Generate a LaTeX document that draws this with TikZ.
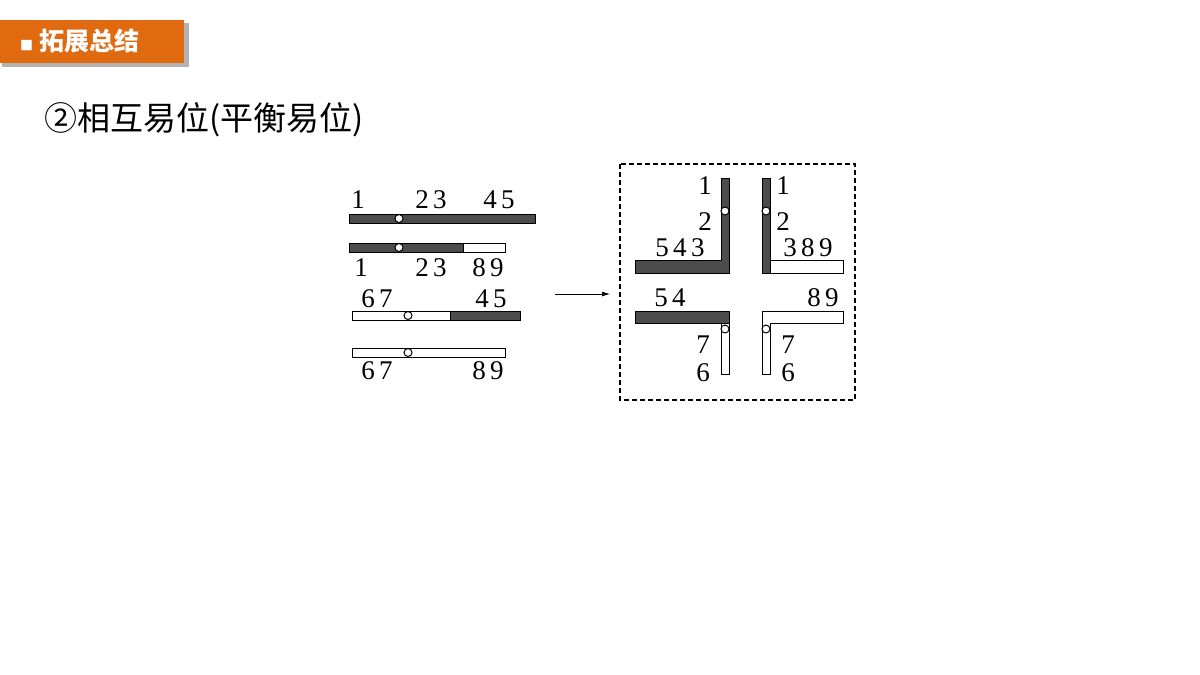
\documentclass[tikz,border=0pt]{standalone}
\usepackage{fontspec}
\usetikzlibrary{arrows.meta}
\newfontfamily\cjk{Noto Sans CJK SC}
\newfontfamily\numf{Liberation Serif}
\definecolor{hdor}{HTML}{E06A10}
\begin{document}
\begin{tikzpicture}[x=1pt,y=-1pt,
  dk/.style={fill=black!70,draw=black,line width=1pt},
  wt/.style={fill=white,draw=black,line width=1pt},
  cen/.style={circle,fill=white,draw=black,line width=1pt,inner sep=0pt,minimum size=8pt},
  num/.style={inner sep=0pt,font=\numf\fontsize{27}{27}\selectfont}]
\useasboundingbox (0,0) rectangle (1200,675);
\fill[white] (0,0) rectangle (1200,675);
% header
\fill[black!30] (2,23) rectangle (189,67);
\fill[hdor] (0,20) rectangle (184,63);
\node[text=white,anchor=west,font=\cjk\bfseries,inner sep=0pt] (hd) at (20,41) {\fontsize{13}{13}\selectfont■\hspace{6pt}\fontsize{25}{25}\selectfont 拓展总结};
\node[anchor=west,font=\cjk\fontsize{33}{33}\selectfont,inner sep=0pt] (title) at (44,120) {②相互易位(平衡易位)};
% left chromosomes
\draw[dk] (349,214) rectangle (535,223);
\node[cen] (c1) at (399,218.5) {};
\draw[dk] (349,243) rectangle (463,252); \draw[wt] (463,243) rectangle (505,252);
\node[cen] (c2) at (399,247.5) {};
\draw[wt] (352,311) rectangle (450,320); \draw[dk] (450,311) rectangle (520,320);
\node[cen] (c3) at (408,315.5) {};
\draw[wt] (352,348) rectangle (505,357);
\node[cen] (c4) at (408,352.5) {};
\node[num] (a1) at (358,200) {1};
\node[num] (a2) at (431,200) {2\,3};
\node[num] (a3) at (499,200) {4\,5};
\node[num] (b1) at (361,268) {1};
\node[num] (b2) at (431,268) {2\,3};
\node[num] (b3) at (488,268) {8\,9};
\node[num] (d1) at (377,299) {6\,7};
\node[num] (d2) at (491,299) {4\,5};
\node[num] (e1) at (377,371) {6\,7};
\node[num] (e2) at (488,371) {8\,9};
% arrow
\coordinate (as) at (555,294); \coordinate (ae) at (610,294);
\draw[-{Latex[length=8pt,width=5pt]},line width=0.8pt] (as) -- (ae);
% dashed box
\draw[line width=1.5pt,dash pattern=on 5pt off 3pt] (620,164) rectangle (855,400);
% TL
\fill[black!70] (721,178) -- (729,178) -- (729,273) -- (635,273) -- (635,260) -- (721,260) -- cycle;
\draw[line width=1pt] (721,178) -- (729,178) -- (729,273) -- (635,273) -- (635,260) -- (721,260) -- cycle;
\node[cen] (q1) at (725,211) {};
\node[num] at (705,186) {1};
\node[num] at (705,222) {2};
\node[num] at (680,248) {5\,4\,3};
% TR
\draw[wt] (762,260) rectangle (843,273);
\draw[dk] (762,178) rectangle (770,273);
\node[cen] (q2) at (766,211) {};
\node[num] at (783,186) {1};
\node[num] at (783,222) {2};
\node[num] at (808,248) {3\,8\,9};
% BL
\draw[wt] (721,311) rectangle (729,374);
\draw[dk] (635,311) rectangle (729,323);
\node[cen] (q3) at (725,329) {};
\node[num] at (670,298) {5\,4};
\node[num] at (703,345) {7};
\node[num] at (703,373) {6};
% BR
\fill[white] (762,311) -- (843,311) -- (843,323) -- (770,323) -- (770,374) -- (762,374) -- cycle;
\draw[line width=1pt] (762,311) -- (843,311) -- (843,323) -- (770,323) -- (770,374) -- (762,374) -- cycle;
\node[cen] (q4) at (766,329) {};
\node[num] at (823,298) {8\,9};
\node[num] at (788,345) {7};
\node[num] at (788,373) {6};
\end{tikzpicture}
\end{document}
